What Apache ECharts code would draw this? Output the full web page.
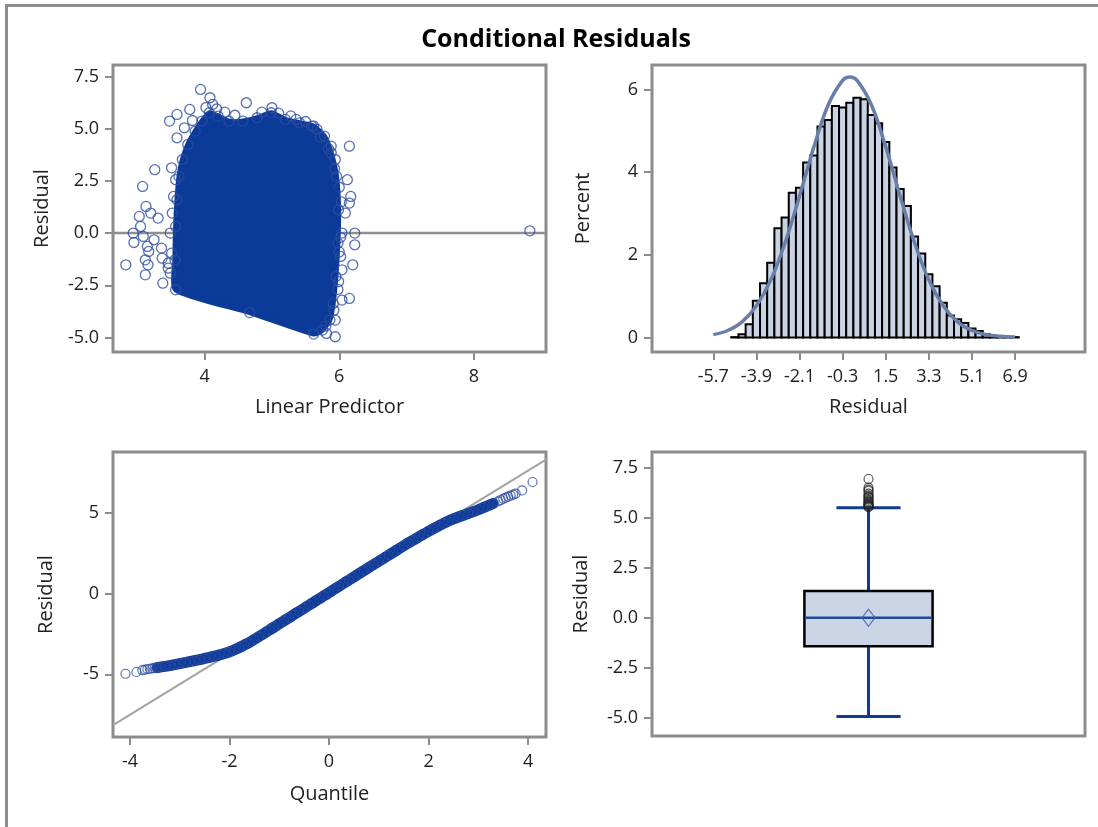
<!DOCTYPE html>
<html>
<head>
<meta charset="utf-8">
<title>Conditional Residuals</title>
<script src="https://cdn.jsdelivr.net/npm/echarts@6/dist/echarts.min.js"></script>
<style>
  html, body { margin: 0; padding: 0; background: #ffffff; }
  #chart { width: 1098px; height: 827px; }
</style>
</head>
<body>
<div id="chart"></div>
<script>
// ---------- tick values ----------
const predictorTicks = [4, 6, 8];
const residualTicks = [-5, -2.5, 0, 2.5, 5, 7.5];
const histTicks = [-5.7, -3.9, -2.1, -0.3, 1.5, 3.3, 5.1, 6.9];
const percentTicks = [0, 2, 4, 6];
const quantileTicks = [-4, -2, 0, 2, 4];
const qqResidualTicks = [-5, 0, 5];

// ---------- residual vs linear predictor ----------
// outline of the saturated point cloud [linear predictor, residual]
const cloudOutline = [
  [3.57, -2.72], [3.56, -1.28], [3.57, 0.32], [3.59, 1.60], [3.62, 2.72],
  [3.67, 3.53], [3.75, 4.25], [3.86, 4.89], [3.96, 5.37], [4.07, 5.77],
  [4.20, 5.61], [4.36, 5.37], [4.57, 5.37], [4.78, 5.53], [4.99, 5.77],
  [5.20, 5.45], [5.41, 5.29], [5.62, 5.13], [5.78, 4.65], [5.88, 3.85],
  [5.96, 2.72], [5.99, 1.12], [5.98, -0.48], [5.95, -2.08], [5.91, -3.37],
  [5.86, -4.17], [5.75, -4.65], [5.62, -4.84], [4.67, -3.81]
];
// individual observations outside the saturated cloud
const predictorPoints = [
  [2.83, -1.52], [2.94, 0.00], [2.95, -0.45], [3.03, 0.80], [3.05, 0.32],
  [3.08, 2.24], [3.09, -0.16], [3.12, -2.00], [3.13, 1.28], [3.12, -1.28],
  [3.15, -0.64], [3.16, -1.52], [3.20, 0.96], [3.17, -0.88], [3.25, -0.32],
  [3.26, 3.04], [3.31, 0.72], [3.36, -0.72], [3.37, -1.20], [3.38, -2.40],
  [3.46, -1.44], [3.46, -1.68], [3.49, -1.92], [3.48, 5.37], [3.59, 5.69],
  [3.59, 4.57], [3.51, 3.13], [3.57, 2.56], [3.54, 1.76], [3.52, 0.96],
  [3.49, 0.00], [3.51, -0.96], [3.78, 5.93], [3.94, 6.89], [4.08, 6.49],
  [4.12, 6.17], [4.62, 6.25], [5.00, 6.01], [5.36, 5.45], [5.59, 5.13],
  [5.67, 4.97], [6.15, 4.17], [5.88, 4.17], [5.94, 3.53], [6.12, 2.56],
  [6.17, 1.76], [6.15, 1.44], [6.09, 0.96], [6.23, 0.00], [6.23, -0.56],
  [6.04, 0.00], [6.20, -1.52], [6.04, -1.76], [6.15, -3.13], [6.04, -3.21],
  [5.94, -4.17], [5.94, -4.97], [5.81, -4.81], [5.99, -2.32], [6.02, -1.12],
  [3.70, 5.05], [3.82, 5.40], [4.02, 6.02], [4.18, 5.95], [4.30, 5.80],
  [4.45, 5.65], [4.85, 5.80], [5.10, 5.75], [5.28, 5.62], [5.50, 5.35],
  [5.72, 4.60], [5.84, 4.05], [5.93, 3.10], [6.00, 2.20], [6.03, 1.50],
  [6.02, -0.20], [6.00, -0.90], [5.98, -2.70], [5.92, -3.70], [5.80, -4.45],
  [8.83, 0.11]
];

// ---------- histogram of residuals ----------
const histMid = [
  -4.8, -4.5, -4.2, -3.9, -3.6, -3.3, -3.0, -2.7, -2.4, -2.1,
  -1.8, -1.5, -1.2, -0.9, -0.6, -0.3, 0.0, 0.3, 0.6, 0.9,
  1.2, 1.5, 1.8, 2.1, 2.4, 2.7, 3.0, 3.3, 3.6, 3.9,
  4.2, 4.5, 4.8, 5.1, 5.4, 5.7, 6.0, 6.3, 6.6, 6.9
];
const histPct = [
  0.01, 0.08, 0.32, 0.89, 1.31, 1.81, 2.64, 2.90, 3.50, 3.62,
  4.23, 4.40, 5.10, 5.26, 5.60, 5.56, 5.68, 5.80, 5.76, 5.38,
  5.18, 4.73, 4.11, 3.59, 3.18, 2.44, 2.03, 1.53, 1.24, 0.84,
  0.53, 0.44, 0.35, 0.22, 0.16, 0.08, 0.04, 0.02, 0.01, 0.01
];
const binWidth = 0.3;
// fitted normal density, in percent per bin
const normalX = [-5.7, -5.1, -4.5, -3.9, -3.3, -2.7, -2.1, -1.5, -0.9, -0.3, 0.0,
                 0.3, 0.9, 1.5, 2.1, 2.7, 3.3, 3.9, 4.5, 5.1, 5.7, 6.3, 6.9];
const normalPct = [0.07, 0.17, 0.38, 0.77, 1.39, 2.30, 3.42, 4.61, 5.63, 6.22, 6.30,
                   6.22, 5.63, 4.61, 3.42, 2.30, 1.39, 0.77, 0.38, 0.17, 0.07, 0.03, 0.01];

// ---------- normal quantile plot ----------
const qqQuantile = [
  -4.09, -3.87, -3.75, -3.70, -3.65, -3.60, -3.55, -3.50, -3.45,
  -3.4, -3.3, -3.2, -3.1, -3.0, -2.9, -2.8, -2.7, -2.6, -2.5,
  -2.4, -2.3, -2.2, -2.1, -2.0, -1.9, -1.8, -1.7, -1.6, -1.5,
  -1.4, -1.3, -1.2, -1.1, -1.0, -0.9, -0.8, -0.7, -0.6, -0.5,
  -0.4, -0.3, -0.2, -0.1, 0.0, 0.1, 0.2, 0.3, 0.4, 0.5,
  0.6, 0.7, 0.8, 0.9, 1.0, 1.1, 1.2, 1.3, 1.4, 1.5,
  1.6, 1.7, 1.8, 1.9, 2.0, 2.1, 2.2, 2.3, 2.4, 2.5,
  2.6, 2.7, 2.8, 2.9, 3.0, 3.1, 3.2, 3.3,
  3.40, 3.45, 3.50, 3.55, 3.60, 3.65, 3.70, 3.75, 3.88, 4.09
];
const qqResidual = [
  -4.97, -4.86, -4.74, -4.71, -4.69, -4.66, -4.63, -4.61, -4.59,
  -4.56, -4.51, -4.46, -4.40, -4.34, -4.28, -4.22, -4.15, -4.09, -4.02,
  -3.95, -3.88, -3.80, -3.71, -3.61, -3.48, -3.34, -3.18, -3.03, -2.84,
  -2.65, -2.46, -2.26, -2.07, -1.87, -1.68, -1.49, -1.29, -1.10, -0.91,
  -0.71, -0.52, -0.33, -0.13, 0.06, 0.26, 0.45, 0.65, 0.84, 1.03,
  1.23, 1.42, 1.62, 1.81, 2.00, 2.19, 2.39, 2.58, 2.77, 2.96,
  3.15, 3.33, 3.51, 3.69, 3.86, 4.03, 4.19, 4.35, 4.50, 4.63,
  4.75, 4.86, 4.97, 5.08, 5.20, 5.33, 5.46, 5.59,
  5.72, 5.80, 5.88, 5.95, 6.01, 6.08, 6.14, 6.20, 6.40, 6.92
];
const qqReference = [[-4.34, -8.16], [4.36, 8.31]];

// ---------- box plot ----------
const boxFive = [-4.94, -1.42, 0.0, 1.33, 5.49]; // low whisker, Q1, median, Q3, high whisker
const boxMean = 0.0;
const boxOutliers = [5.52, 5.55, 5.58, 5.62, 5.65, 5.70, 5.75, 5.80, 5.85,
                     5.92, 6.00, 6.05, 6.12, 6.20, 6.33, 6.40, 6.50, 6.93];

// ---------- styling ----------
const FONT = '"Open Sans", "Noto Sans", sans-serif';
const FRAME = '#8c8c8c';
const TEXT = '#222222';
const DOT = '#0b3a98';
const RING = '#2d4ca2';

function valueAxis(gridIndex, min, max, ticks, digits, name, nameGap, labelMargin) {
  return {
    type: 'value', gridIndex, min, max, name,
    nameLocation: 'middle', nameGap,
    nameTextStyle: { fontFamily: FONT, fontSize: 20, color: TEXT },
    axisLine: { show: false, onZero: false },
    axisTick: { show: true, length: 8, customValues: ticks,
                lineStyle: { color: FRAME, width: 2 } },
    axisLabel: { customValues: ticks, margin: labelMargin,
                 fontFamily: FONT, fontSize: 18, color: TEXT,
                 formatter: v => Number(v).toFixed(digits) },
    splitLine: { show: false }
  };
}

const gridStyle = { show: true, borderColor: FRAME, borderWidth: 3, backgroundColor: '#ffffff' };

const option = {
  animation: false,
  backgroundColor: '#ffffff',
  grid: [
    Object.assign({ left: 113, top: 65, width: 433, height: 287 }, gridStyle),
    Object.assign({ left: 652, top: 65, width: 433, height: 287 }, gridStyle),
    Object.assign({ left: 113, top: 452, width: 433, height: 285 }, gridStyle),
    Object.assign({ left: 652, top: 452, width: 433, height: 284 }, gridStyle)
  ],
  xAxis: [
    valueAxis(0, 2.64, 9.07, predictorTicks, 0, 'Linear Predictor', 45, 16),
    valueAxis(1, -8.26, 9.82, histTicks, 1, 'Residual', 45, 16),
    valueAxis(2, -4.34, 4.36, quantileTicks, 0, 'Quantile', 47, 16),
    { type: 'value', gridIndex: 3, min: 0, max: 1, show: false }
  ],
  yAxis: [
    valueAxis(0, -5.7, 8.06, residualTicks, 1, 'Residual', 61, 14),
    valueAxis(1, -0.35, 6.59, percentTicks, 0, 'Percent', 59, 14),
    valueAxis(2, -8.89, 8.78, qqResidualTicks, 0, 'Residual', 57, 14),
    valueAxis(3, -5.91, 8.28, residualTicks, 1, 'Residual', 61, 14)
  ],
  graphic: [
    { type: 'polyline', silent: true, z: 100,
      shape: { points: [[6.5, 900], [6.5, 5.5], [1200, 5.5]] },
      style: { stroke: FRAME, lineWidth: 3, fill: null } },
    { type: 'text', silent: true, z: 100, x: 556, y: 40,
      style: { text: 'Conditional Residuals', fill: '#000000',
               font: 'bold 25px ' + FONT, textAlign: 'center', textVerticalAlign: 'middle' } }
  ],
  series: [
    // zero reference line behind the cloud
    { type: 'line', xAxisIndex: 0, yAxisIndex: 0, silent: true, z: 1,
      symbol: 'none', data: [[2.64, 0], [9.07, 0]],
      lineStyle: { color: '#8f8f8f', width: 2.5 } },
    // saturated region of overlapping markers
    { type: 'custom', xAxisIndex: 0, yAxisIndex: 0, silent: true, z: 2,
      data: cloudOutline,
      renderItem: (params, api) => {
        if (params.dataIndex !== 0) return null;
        const pts = cloudOutline.map(p => api.coord(p));
        return { type: 'polygon', shape: { points: pts, smooth: 0.2 },
                 style: { fill: DOT, stroke: DOT, lineWidth: 5, lineJoin: 'round' } };
      } },
    { type: 'scatter', xAxisIndex: 0, yAxisIndex: 0, silent: true, z: 3,
      symbol: 'circle', symbolSize: 10,
      data: predictorPoints.concat(cloudOutline),
      itemStyle: { color: 'rgba(255,255,255,0)', borderColor: RING, borderWidth: 1.3 } },

    // histogram bars
    { type: 'custom', xAxisIndex: 1, yAxisIndex: 1, silent: true, z: 2,
      data: histMid.map((m, i) => [m, histPct[i]]),
      renderItem: (params, api) => {
        const mid = api.value(0);
        const top = api.coord([mid - binWidth / 2, api.value(1)]);
        const base = api.coord([mid + binWidth / 2, 0]);
        return { type: 'rect',
                 shape: { x: top[0], y: top[1], width: base[0] - top[0], height: base[1] - top[1] },
                 style: { fill: '#c9d3e4', stroke: '#000000', lineWidth: 2 } };
      } },
    // normal density curve
    { type: 'line', xAxisIndex: 1, yAxisIndex: 1, silent: true, z: 4,
      symbol: 'none', smooth: 0.4,
      data: normalX.map((x, i) => [x, normalPct[i]]),
      lineStyle: { color: '#6880a8', width: 3.5 } },

    // quantile reference line
    { type: 'line', xAxisIndex: 2, yAxisIndex: 2, silent: true, z: 1,
      symbol: 'none', data: qqReference,
      lineStyle: { color: '#a3a3a3', width: 2 } },
    // dense run of overlapping quantile markers
    { type: 'line', xAxisIndex: 2, yAxisIndex: 2, silent: true, z: 2,
      symbol: 'none', smooth: 0.3,
      data: qqQuantile.map((q, i) => [q, qqResidual[i]]).filter(p => p[0] >= -3.45 && p[0] <= 3.35),
      lineStyle: { color: DOT, width: 11, cap: 'round', join: 'round' } },
    { type: 'scatter', xAxisIndex: 2, yAxisIndex: 2, silent: true, z: 3,
      symbol: 'circle', symbolSize: 9,
      data: qqQuantile.map((q, i) => [q, qqResidual[i]]),
      itemStyle: { color: 'rgba(255,255,255,0)', borderColor: RING, borderWidth: 1.2 } },

    // box and whiskers
    { type: 'custom', xAxisIndex: 3, yAxisIndex: 3, silent: true, z: 2,
      data: [[0.5].concat(boxFive)],
      renderItem: (params, api) => {
        const x = api.value(0);
        const c = v => api.coord([x, v]);
        const halfBox = api.size([0.148, 0])[0];
        const halfCap = api.size([0.074, 0])[0];
        const pLow = c(api.value(1)), pQ1 = c(api.value(2)), pMed = c(api.value(3));
        const pQ3 = c(api.value(4)), pHigh = c(api.value(5));
        const whisker = { stroke: '#0f3b8e', lineWidth: 3 };
        return { type: 'group', children: [
          { type: 'line', shape: { x1: pQ3[0], y1: pQ3[1], x2: pHigh[0], y2: pHigh[1] }, style: whisker },
          { type: 'line', shape: { x1: pQ1[0], y1: pQ1[1], x2: pLow[0], y2: pLow[1] }, style: whisker },
          { type: 'line', shape: { x1: pHigh[0] - halfCap, y1: pHigh[1], x2: pHigh[0] + halfCap, y2: pHigh[1] }, style: whisker },
          { type: 'line', shape: { x1: pLow[0] - halfCap, y1: pLow[1], x2: pLow[0] + halfCap, y2: pLow[1] }, style: whisker },
          { type: 'rect', shape: { x: pQ3[0] - halfBox, y: pQ3[1], width: 2 * halfBox, height: pQ1[1] - pQ3[1] },
            style: { fill: '#cbd5e6', stroke: '#000000', lineWidth: 2.5 } },
          { type: 'line', shape: { x1: pMed[0] - halfBox + 1.5, y1: pMed[1], x2: pMed[0] + halfBox - 1.5, y2: pMed[1] },
            style: { stroke: '#1c4a9e', lineWidth: 2.5 } }
        ] };
      } },
    { type: 'scatter', xAxisIndex: 3, yAxisIndex: 3, silent: true, z: 3,
      symbol: 'circle', symbolSize: 9,
      data: boxOutliers.map(v => [0.5, v]),
      itemStyle: { color: 'rgba(255,255,255,0)', borderColor: '#222222', borderWidth: 1.1 } },
    { type: 'scatter', xAxisIndex: 3, yAxisIndex: 3, silent: true, z: 4,
      symbol: 'diamond', symbolSize: [13, 17],
      data: [[0.5, boxMean]],
      itemStyle: { color: 'rgba(255,255,255,0)', borderColor: '#3f5bb5', borderWidth: 1.3 } }
  ]
};

const chart = echarts.init(document.getElementById('chart'), null, { renderer: 'canvas' });
chart.setOption(option);
</script>
</body>
</html>
